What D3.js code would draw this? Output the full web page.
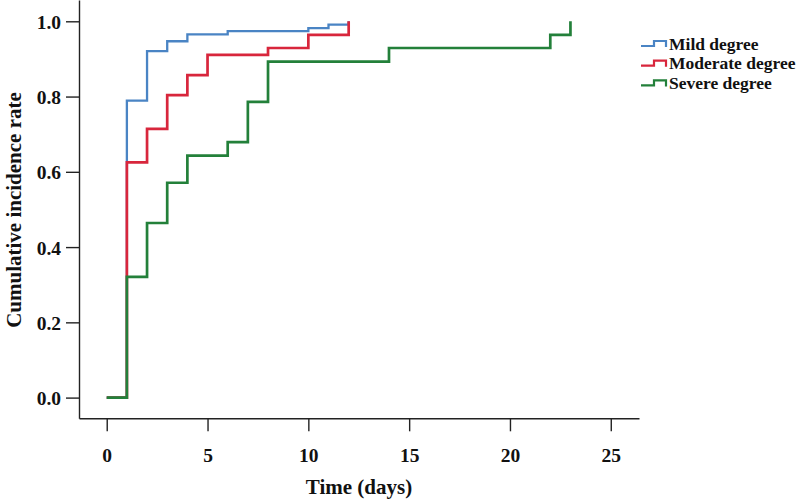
<!DOCTYPE html>
<html>
<head>
<meta charset="utf-8">
<script src="https://cdn.jsdelivr.net/npm/d3@7"></script>
<style>
  body { margin: 0; background: #fff; }
  text { font-family: "Liberation Serif", "Times New Roman", serif; font-weight: bold; fill: #111; }
</style>
</head>
<body>
<svg id="chart" width="800" height="499"></svg>
<script>
// step points (time in days, cumulative rate)
var mildDays  = [0, 1, 2, 3, 4, 6, 10, 11, 12];
var mildRate  = [0, 0.789, 0.921, 0.947, 0.965, 0.974, 0.982, 0.991, 1.0];
var modDays   = [0, 1, 2, 3, 4, 5, 8, 10, 12];
var modRate   = [0, 0.625, 0.714, 0.804, 0.857, 0.911, 0.929, 0.964, 1.0];
var sevDays   = [0, 1, 2, 3, 4, 6, 7, 8, 14, 22, 23];
var sevRate   = [0, 0.321, 0.464, 0.571, 0.643, 0.679, 0.786, 0.893, 0.929, 0.964, 1.0];

var xTicks = [0, 5, 10, 15, 20, 25];
var yTicks = [0, 0.2, 0.4, 0.6, 0.8, 1.0];

var groupNames = ["Mild degree", "Moderate degree", "Severe degree"];
var groupColors = ["#4a84c4", "#d8263c", "#23803a"];

var svg = d3.select("#chart");

// axis lines run a bit past the data range, like the original
var x = d3.scaleLinear().domain([-1.375, 26.4]).range([79, 639]);
var y = d3.scaleLinear().domain([-0.055, 1.0566]).range([418.3, 0]);

var xAxis = svg.append("g")
    .attr("transform", "translate(0,418.3)")
    .call(d3.axisBottom(x).tickValues(xTicks).tickFormat(d3.format("d")).tickSize(13).tickSizeOuter(0).tickPadding(17));

var yAxis = svg.append("g")
    .attr("transform", "translate(79,0)")
    .call(d3.axisLeft(y).tickValues(yTicks).tickFormat(d3.format(".1f")).tickSize(13).tickSizeOuter(0).tickPadding(5));

svg.selectAll(".domain, .tick line").attr("stroke", "#222").attr("stroke-width", 1.4);
svg.selectAll(".tick text").style("font-size", "19.5px").style("font-family", "'Liberation Serif', serif").style("font-weight", "bold").attr("fill", "#111");
yAxis.selectAll(".tick text").attr("dy", "0.36em");

// axis titles
svg.append("text")
    .attr("x", 359).attr("y", 494)
    .attr("text-anchor", "middle")
    .style("font-size", "21px")
    .text("Time (days)");

svg.append("text")
    .attr("transform", "translate(21,210) rotate(-90)")
    .attr("text-anchor", "middle")
    .style("font-size", "21px")
    .text("Cumulative incidence rate");

// curves
var series = [
    {days: mildDays, rate: mildRate},
    {days: modDays, rate: modRate},
    {days: sevDays, rate: sevRate}
];

var line = d3.line()
    .x(function(d){ return x(d[0]); })
    .y(function(d){ return y(d[1]); })
    .curve(d3.curveStepAfter);

series.forEach(function(s, i){
    var pts = s.days.map(function(d, j){ return [d, s.rate[j]]; });
    svg.append("path")
        .datum(pts)
        .attr("d", line)
        .attr("fill", "none")
        .attr("stroke", groupColors[i])
        .attr("stroke-width", i == 0 ? 2.3 : 2.7);
});

// legend
var legend = svg.append("g").attr("transform", "translate(641,0)");
groupNames.forEach(function(name, i){
    var cy = 44 + i * 19.7;
    legend.append("path")
        .attr("d", "M0," + (cy + 2) + "H13V" + (cy - 3) + "H25V" + (cy + 3))
        .attr("fill", "none")
        .attr("stroke", groupColors[i])
        .attr("stroke-width", 2.2);
    legend.append("text")
        .attr("x", 28).attr("y", cy + 5.5)
        .style("font-size", "17.5px")
        .text(name);
});
</script>
</body>
</html>
